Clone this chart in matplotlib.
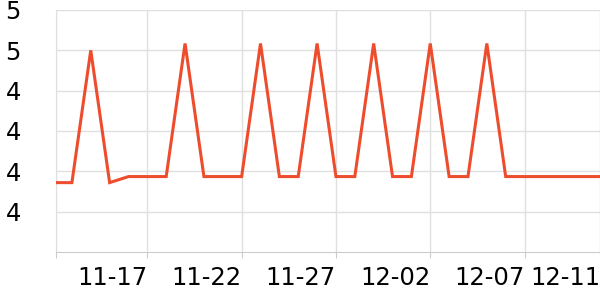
import matplotlib
matplotlib.use("Agg")
import matplotlib.pyplot as plt
import matplotlib.dates as mdates
import pandas as pd

dates = pd.date_range("2023-11-12", "2023-12-11", freq="D")
values = [
    4.172, 4.172, 4.50, 4.172, 4.187, 4.187, 4.187, 4.517, 4.187, 4.187,
    4.187, 4.517, 4.187, 4.187, 4.517, 4.187, 4.187, 4.517, 4.187, 4.187,
    4.517, 4.187, 4.187, 4.517, 4.187, 4.187, 4.187, 4.187, 4.187, 4.187,
]
y_ticks = [4.1, 4.2, 4.3, 4.4, 4.5, 4.6]
y_labels = ["4", "4", "4", "4", "5", "5"]
x_ticks = ["2023-11-17", "2023-11-22", "2023-11-27", "2023-12-02", "2023-12-07", "2023-12-11"]
x_labels = ["11-17", "11-22", "11-27", "12-02", "12-07", "12-11"]

fig = plt.figure(figsize=(6, 3), dpi=100)
ax = fig.add_axes([0.0928, 0.16, 0.9072, 0.8067])

ax.plot(dates, values, color="#ee4d2d", linewidth=2.2, solid_joinstyle="miter", zorder=3)

x0 = mdates.date2num(pd.Timestamp("2023-11-12")) + 0.14
x1 = mdates.date2num(pd.Timestamp("2023-12-11"))
ax.set_xlim(x0, x1)
ax.set_ylim(4.0, 4.6)

ax.set_yticks(y_ticks)
ax.set_yticklabels(y_labels)
xt = [x0] + [mdates.date2num(pd.Timestamp(d)) for d in x_ticks]
ax.set_xticks(xt)
ax.set_xticklabels([""] + x_labels, ha="right")

ax.grid(True, color="#e0e0e0", linewidth=1)
ax.set_axisbelow(True)
for s in ["top", "right"]:
    ax.spines[s].set_visible(False)
ax.spines["left"].set_color("#e0e0e0")
ax.spines["bottom"].set_color("#cccccc")
ax.tick_params(axis="y", length=0, pad=25, labelsize=17.5)
ax.tick_params(axis="x", length=4, color="#cccccc", pad=6, labelsize=17.5)

fig.savefig("out.png", dpi=100)
